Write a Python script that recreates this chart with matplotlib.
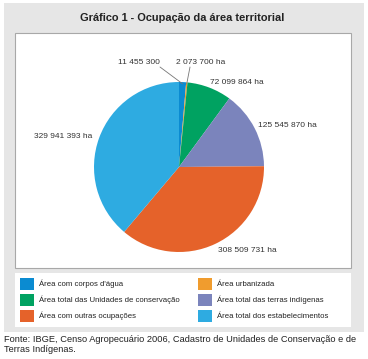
import numpy as np
import matplotlib
matplotlib.use("Agg")
import matplotlib.pyplot as plt
from matplotlib.patches import Rectangle

# values (ha), in clockwise order from the top
categories = ["Área com corpos d'água", "Área urbanizada",
              "Área total das Unidades de conservação", "Área total das terras indígenas",
              "Área com outras ocupações", "Área total dos estabelecimentos"]
values = [11455300, 2073700, 72099864, 125545870, 308509731, 329941393]
labels = ["11 455 300", "2 073 700 ha", "72 099 864 ha", "125 545 870 ha",
          "308 509 731 ha", "329 941 393 ha"]
colors = ["#0b8bd1", "#f09c2e", "#00a261", "#7b84bc", "#e5622a", "#2eabe1"]

W, H = 368, 359
plt.rcParams['font.family'] = ['Liberation Sans', 'DejaVu Sans']

fig = plt.figure(figsize=(W / 100, H / 100), dpi=100)
fig.patch.set_facecolor("white")


def fx(x):
    return x / W


def fy(y):
    return 1 - y / H


def box(x0, y0, x1, y1, fc, ec="none", lw=0):
    fig.patches.append(Rectangle((fx(x0), fy(y1)), fx(x1) - fx(x0), fy(y0) - fy(y1),
                                 transform=fig.transFigure, facecolor=fc,
                                 edgecolor=ec, linewidth=lw, zorder=-5))


# panels
box(4, 3, 364, 332, "#e6e6e6")
box(15, 33, 351, 268, "white", ec="#a8a8a8", lw=0.8)
box(15, 273, 351, 327, "white")

fig.text(fx(182), fy(18), "Gráfico 1 - Ocupação da área territorial",
         ha="center", va="center", fontsize=7.9, fontweight="bold", color="#222222")

# pie
cx, cy, r = 179, 167, 85
ax = fig.add_axes([fx(cx - r), fy(cy + r), fx(2 * r), fy(cy - r) - fy(cy + r)])
ax.set_zorder(2)
ax.patch.set_visible(False)
wedges, _ = ax.pie(values, colors=colors, startangle=90, counterclock=False,
                   radius=1, wedgeprops=dict(linewidth=0))
ax.set_xlim(-1, 1)
ax.set_ylim(-1, 1)
ax.axis("off")

# label positions (pixels) and alignment
label_pos = [(160, 62, "right"), (176, 62, "left"), (210, 83, "left"),
             (258, 125, "left"), (218, 250, "left"), (92, 137, "right")]
line_start = [(160, 67), (190, 67)]
for i, (w, lab) in enumerate(zip(wedges, labels)):
    lx, ly, ha = label_pos[i]
    fig.text(fx(lx), fy(ly), lab, ha=ha, va="center", fontsize=6, color="#333333")
    if i < 2:
        ang = np.deg2rad((w.theta1 + w.theta2) / 2)
        ex, ey = np.cos(ang), np.sin(ang)
        sx, sy = line_start[i]
        ax.annotate("", xy=(ex * 0.98, ey * 0.98), xycoords="data",
                    xytext=(fx(sx), fy(sy)), textcoords="figure fraction",
                    annotation_clip=False,
                    arrowprops=dict(arrowstyle="-", color="#777777", lw=0.6,
                                    shrinkA=0, shrinkB=0))

# legend
rows = [284, 300, 316]
for i, (cat, col) in enumerate(zip(categories, colors)):
    row = i // 2
    sx = 20 if i % 2 == 0 else 198
    y = rows[row]
    box(sx, y - 6, sx + 14, y + 6, col)
    fig.text(fx(sx + 19), fy(y), cat, ha="left", va="center", fontsize=5.6, color="#222222")

fig.text(fx(4), fy(339), "Fonte: IBGE, Censo Agropecuário 2006, Cadastro de Unidades de Conservação e de",
         ha="left", va="center", fontsize=6.7, color="#222222")
fig.text(fx(4), fy(349), "Terras Indígenas.", ha="left", va="center", fontsize=6.7, color="#222222")

fig.savefig("out.png", dpi=100, facecolor="white")
